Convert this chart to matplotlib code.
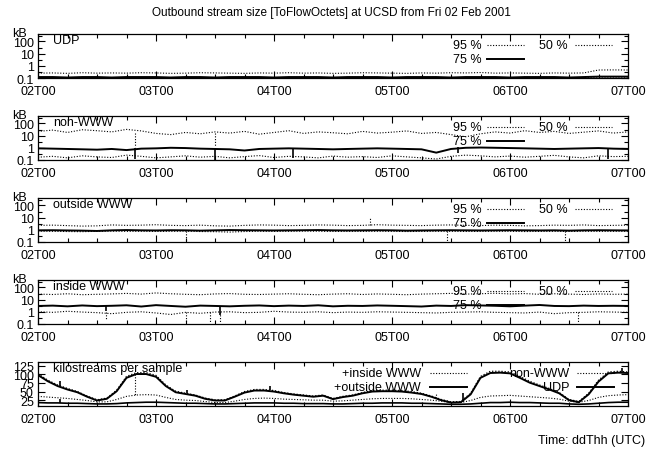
import matplotlib
matplotlib.use("Agg")
import matplotlib.pyplot as plt
from matplotlib.ticker import FixedLocator, MultipleLocator, NullFormatter
import numpy as np

plt.rcParams['font.family'] = ['Liberation Sans', 'DejaVu Sans']

# time grids (hours after 02T00)
hours_coarse = np.arange(0, 121, 3)   # 3 h samples, log panels
hours_fine = np.arange(0, 121, 2)     # 2 h samples, stream counts
day_labels = ['02T00', '03T00', '04T00', '05T00', '06T00', '07T00']

# UDP [kB]
udp_p95 = [0.25, 0.26, 0.24, 0.27, 0.25, 0.26, 0.25, 0.27, 0.26, 0.24,
           0.25, 0.27, 0.26, 0.25, 0.24, 0.26, 0.25, 0.27, 0.25, 0.26,
           0.24, 0.25, 0.27, 0.26, 0.25, 0.24, 0.26, 0.25, 0.27, 0.26,
           0.28, 0.25, 0.26, 0.25, 0.24, 0.26, 0.25, 0.26, 0.45, 0.46, 0.45]
udp_p75 = [0.12, 0.12, 0.11, 0.12, 0.12, 0.11, 0.12, 0.12, 0.12, 0.11,
           0.12, 0.12, 0.11, 0.12, 0.12, 0.12, 0.11, 0.12, 0.12, 0.12,
           0.11, 0.12, 0.12, 0.12, 0.11, 0.12, 0.12, 0.12, 0.11, 0.12,
           0.12, 0.12, 0.11, 0.12, 0.12, 0.12, 0.11, 0.12, 0.13, 0.13, 0.13]
udp_p50 = [0.11, 0.11, 0.10, 0.11, 0.11, 0.10, 0.11, 0.11, 0.11, 0.10,
           0.11, 0.11, 0.10, 0.11, 0.11, 0.11, 0.10, 0.11, 0.11, 0.11,
           0.10, 0.11, 0.11, 0.11, 0.10, 0.11, 0.11, 0.11, 0.10, 0.11,
           0.11, 0.11, 0.10, 0.11, 0.11, 0.11, 0.10, 0.11, 0.12, 0.12, 0.12]

# non-WWW [kB]
nonwww_p95 = [22, 28, 18, 30, 25, 20, 32, 24, 15, 12,
              18, 14, 20, 16, 22, 13, 18, 25, 15, 20,
              17, 14, 22, 16, 19, 24, 15, 18, 12, 8,
              14, 20, 16, 25, 18, 22, 15, 19, 24, 16, 20]
nonwww_p75 = [0.9, 0.85, 0.8, 0.75, 0.7, 0.8, 0.65, 0.85, 0.9, 1.0,
              0.95, 0.85, 0.8, 0.75, 0.6, 0.8, 0.85, 0.9, 0.85, 0.8,
              0.75, 0.8, 0.85, 0.9, 0.85, 0.8, 0.75, 0.4, 0.8, 1.0,
              1.05, 1.0, 0.95, 0.9, 0.85, 0.8, 0.85, 0.9, 0.95, 0.85, 0.8]
nonwww_p50 = [0.17, 0.2, 0.15, 0.22, 0.18, 0.16, 0.25, 0.2, 0.15, 0.18,
              0.22, 0.17, 0.2, 0.15, 0.19, 0.23, 0.16, 0.2, 0.18, 0.15,
              0.21, 0.17, 0.19, 0.16, 0.22, 0.18, 0.15, 0.12, 0.2, 0.25,
              0.22, 0.18, 0.21, 0.17, 0.2, 0.24, 0.18, 0.15, 0.22, 0.19, 0.2]

# outside WWW [kB]
outwww_p95 = [2.3, 2.4, 2.2, 2.0, 2.1, 2.5, 2.3, 2.4, 2.6, 2.3,
              2.2, 2.4, 2.1, 2.0, 2.3, 2.5, 2.4, 2.2, 2.3, 2.5,
              2.4, 2.2, 2.3, 2.6, 2.4, 2.3, 2.2, 2.4, 2.5, 2.3,
              2.2, 2.4, 2.3, 2.1, 2.2, 2.4, 2.3, 2.5, 2.2, 2.3, 2.4]
outwww_p75 = [0.9, 0.92, 0.88, 0.85, 0.8, 0.9, 0.95, 0.9, 0.88, 0.92,
              0.9, 0.85, 0.9, 0.95, 0.92, 0.9, 0.88, 0.9, 0.92, 0.95,
              0.9, 0.88, 0.9, 0.92, 0.9, 0.85, 0.88, 0.9, 0.92, 0.9,
              0.88, 0.9, 0.92, 0.9, 0.88, 0.9, 0.85, 0.9, 0.92, 0.9, 0.88]
outwww_p50 = [0.78, 0.75, 0.72, 0.7, 0.75, 0.78, 0.74, 0.76, 0.73, 0.75,
              0.78, 0.72, 0.7, 0.65, 0.72, 0.76, 0.74, 0.75, 0.78, 0.76,
              0.73, 0.75, 0.74, 0.76, 0.75, 0.72, 0.74, 0.76, 0.75, 0.73,
              0.74, 0.76, 0.75, 0.72, 0.74, 0.75, 0.73, 0.76, 0.74, 0.75, 0.76]

# inside WWW [kB]
inwww_p95 = [28, 26, 30, 25, 27, 29, 32, 28, 35, 30,
             27, 25, 29, 31, 27, 26, 28, 30, 27, 25,
             28, 30, 26, 29, 27, 25, 28, 30, 32, 28,
             30, 33, 29, 31, 27, 30, 28, 26, 29, 27, 28]
inwww_p75 = [3.0, 3.2, 2.8, 3.3, 2.9, 3.1, 3.4, 2.7, 3.5, 3.0,
             2.6, 3.2, 3.0, 2.8, 3.1, 3.3, 2.9, 3.2, 3.0, 3.4,
             2.8, 3.1, 3.0, 3.3, 3.1, 2.9, 2.7, 3.2, 3.0, 3.5,
             3.3, 3.1, 2.8, 3.2, 3.6, 3.0, 2.9, 3.2, 3.0, 3.1, 3.0]
inwww_p50 = [1.0, 0.9, 1.1, 0.95, 0.85, 0.7, 0.9, 1.0, 0.8, 0.6,
             0.9, 0.75, 0.95, 1.0, 0.85, 0.9, 1.1, 0.95, 0.9, 1.0,
             0.85, 0.95, 0.9, 1.0, 0.95, 0.9, 0.85, 0.8, 0.9, 0.95,
             1.0, 0.9, 0.85, 0.8, 0.95, 0.7, 0.85, 0.9, 1.0, 0.95, 0.9]

# short outliers seen in single samples: day, from, to
nonwww_spikes_solid = [(2.82, 0.9, 0.12), (3.50, 0.85, 0.1), (4.16, 0.9, 0.15),
                       (5.56, 0.4, 1.2), (6.83, 0.9, 0.12)]
nonwww_spikes_dot = [(2.82, 15, 1.2), (3.50, 16, 1.5)]
outwww_spikes_dot = [(3.25, 0.75, 0.1), (4.81, 2.4, 10), (5.47, 0.75, 0.1),
                     (6.47, 0.75, 0.12)]
inwww_spikes_dot = [(2.58, 0.9, 0.2), (3.25, 0.9, 0.12), (3.46, 0.9, 0.15),
                    (3.54, 0.9, 0.12), (6.58, 0.9, 0.15)]
inwww_spikes_solid = [(3.54, 3.0, 0.5), (2.58, 3.0, 1.2)]

# kilostreams per sample (cumulative)
ks_inside = [102, 83, 69, 59, 50, 37, 26, 31, 54, 94,
             105, 105, 97, 69, 51, 45, 40, 31, 26, 26,
             37, 50, 56, 56, 53, 47, 43, 40, 37, 40,
             30, 36, 40, 47, 53, 54, 54, 53, 50, 45,
             37, 27, 20, 21, 45, 94, 109, 109, 107, 94,
             80, 69, 59, 47, 27, 21, 45, 83, 107, 109, 107]
ks_outside = [98, 80, 66, 56, 48, 35, 24, 29, 51, 90,
              101, 101, 93, 66, 48, 43, 38, 29, 24, 24,
              35, 47, 53, 53, 50, 45, 41, 38, 35, 38,
              28, 34, 38, 45, 50, 51, 51, 50, 47, 43,
              35, 25, 18, 19, 42, 90, 104, 105, 103, 90,
              76, 66, 56, 45, 25, 19, 42, 79, 103, 105, 104]
ks_nonwww = [36, 34, 32, 30, 27, 24, 20, 20, 27, 36,
             40, 41, 40, 33, 27, 25, 24, 21, 18, 18,
             22, 27, 30, 31, 30, 28, 27, 26, 25, 25,
             22, 23, 25, 27, 29, 30, 30, 30, 29, 27,
             25, 22, 18, 18, 24, 33, 37, 38, 39, 37,
             35, 33, 31, 28, 22, 19, 24, 33, 38, 40, 41]
ks_udp = [18, 17, 17, 16, 16, 15, 14, 14, 15, 17,
          18, 19, 19, 18, 17, 16, 16, 15, 14, 14,
          15, 16, 17, 17, 17, 16, 16, 15, 15, 15,
          14, 14, 15, 16, 16, 17, 17, 17, 16, 16,
          15, 14, 13, 13, 14, 16, 18, 18, 19, 18,
          18, 17, 16, 16, 14, 13, 14, 16, 18, 19, 19]
ks_spikes_solid = [(2.19, 66, 82), (2.19, 17, 28), (3.26, 45, 56),
                   (3.97, 54, 66), (5.60, 20, 45), (6.95, 107, 118)]
ks_spikes_dot = [(2.82, 100, 40), (5.37, 32, 45)]

panels = [
    ('UDP', udp_p95, udp_p50, udp_p75, [], []),
    ('non-WWW', nonwww_p95, nonwww_p50, nonwww_p75,
     nonwww_spikes_solid, nonwww_spikes_dot),
    ('outside WWW', outwww_p95, outwww_p50, outwww_p75, [], outwww_spikes_dot),
    ('inside WWW', inwww_p95, inwww_p50, inwww_p75,
     inwww_spikes_solid, inwww_spikes_dot),
]

W, H = 649, 452
fig = plt.figure(figsize=(W / 100, H / 100), dpi=100)

dotted = (0, (1, 1.5))
fs = 9


def frame(k):
    top = 35 + 82 * k
    return fig.add_axes([38 / W, 1 - (top + 44) / H, 590 / W, 44 / H])


def style_x(ax):
    ax.set_xlim(2, 7)
    ax.xaxis.set_major_locator(FixedLocator([2, 3, 4, 5, 6, 7]))
    ax.set_xticklabels(day_labels)
    ax.xaxis.set_minor_locator(MultipleLocator(0.25))
    ax.tick_params(which='both', direction='in', top=True, right=True,
                   labelsize=fs, width=0.8)
    ax.tick_params(which='major', length=5)
    ax.tick_params(which='minor', length=3)
    ax.tick_params(axis='x', pad=5)
    ax.tick_params(axis='y', pad=3)
    for s in ax.spines.values():
        s.set_linewidth(0.9)


def spikes(ax, rows, ls, lw):
    if not rows:
        return
    d, a, b = zip(*rows)
    ax.vlines(d, a, b, colors='black', linestyles=ls, lw=lw)


def legend_row(ax, xr, xs, y, label, ls, lw):
    ax.text(xr, y, label, transform=ax.transAxes, ha='right', va='center',
            fontsize=fs)
    ax.plot([xs, xs + 0.063], [y, y], transform=ax.transAxes, color='black',
            ls=ls, lw=lw, clip_on=False)


t_coarse = 2 + hours_coarse / 24
t_fine = 2 + hours_fine / 24

for k, (name, p95, p50, p75, sp_solid, sp_dot) in enumerate(panels):
    ax = frame(k)
    ax.plot(t_coarse, p95, color='black', ls=dotted, lw=0.8)
    ax.plot(t_coarse, p50, color='black', ls=dotted, lw=0.8)
    ax.plot(t_coarse, p75, color='black', lw=1.4)
    spikes(ax, sp_solid, '-', 1.2)
    spikes(ax, sp_dot, dotted, 0.8)
    ax.set_yscale('log')
    ax.set_ylim(0.1, 400)
    ax.yaxis.set_major_locator(FixedLocator([0.1, 1, 10, 100]))
    ax.set_yticklabels(['0.1', '1', '10', '100'])
    ax.yaxis.set_minor_locator(FixedLocator([0.3, 3, 30, 300]))
    ax.yaxis.set_minor_formatter(NullFormatter())
    style_x(ax)
    ax.text(-0.032, 1.02, 'kB', transform=ax.transAxes, ha='center',
            va='center', fontsize=fs)
    ax.text(0.025, 0.86, name, transform=ax.transAxes, ha='left',
            va='center', fontsize=fs)
    legend_row(ax, 0.7525, 0.761, 0.75, '95 %', dotted, 0.8)
    legend_row(ax, 0.898, 0.910, 0.75, '50 %', dotted, 0.8)
    legend_row(ax, 0.7525, 0.761, 0.43, '75 %', '-', 1.4)

ax = frame(4)
ax.plot(t_fine, ks_inside, color='black', ls=dotted, lw=0.9)
ax.plot(t_fine, ks_outside, color='black', lw=1.4)
ax.plot(t_fine, ks_nonwww, color='black', ls=dotted, lw=0.8)
ax.plot(t_fine, ks_udp, color='black', lw=1.2)
spikes(ax, ks_spikes_solid, '-', 1.2)
spikes(ax, ks_spikes_dot, dotted, 0.8)
ax.set_ylim(8, 136)
ax.yaxis.set_major_locator(FixedLocator([25, 50, 75, 100, 125]))
style_x(ax)
ax.text(0.025, 0.86, 'kilostreams per sample', transform=ax.transAxes,
        ha='left', va='center', fontsize=fs)
legend_row(ax, 0.649, 0.664, 0.75, '+inside WWW', dotted, 0.8)
legend_row(ax, 0.900, 0.9135, 0.75, 'non-WWW', dotted, 0.8)
legend_row(ax, 0.649, 0.664, 0.43, '+outside WWW', '-', 1.4)
legend_row(ax, 0.900, 0.9135, 0.43, 'UDP', '-', 1.4)

fig.text(0.51, 1 - 13 / H,
         'Outbound stream size [ToFlowOctets] at UCSD from Fri 02 Feb 2001',
         ha='center', va='center', fontsize=8.5)
fig.text(645 / W, 1 - 441 / H, 'Time: ddThh (UTC)', ha='right',
         va='center', fontsize=fs)

fig.savefig('out.png', dpi=100)
